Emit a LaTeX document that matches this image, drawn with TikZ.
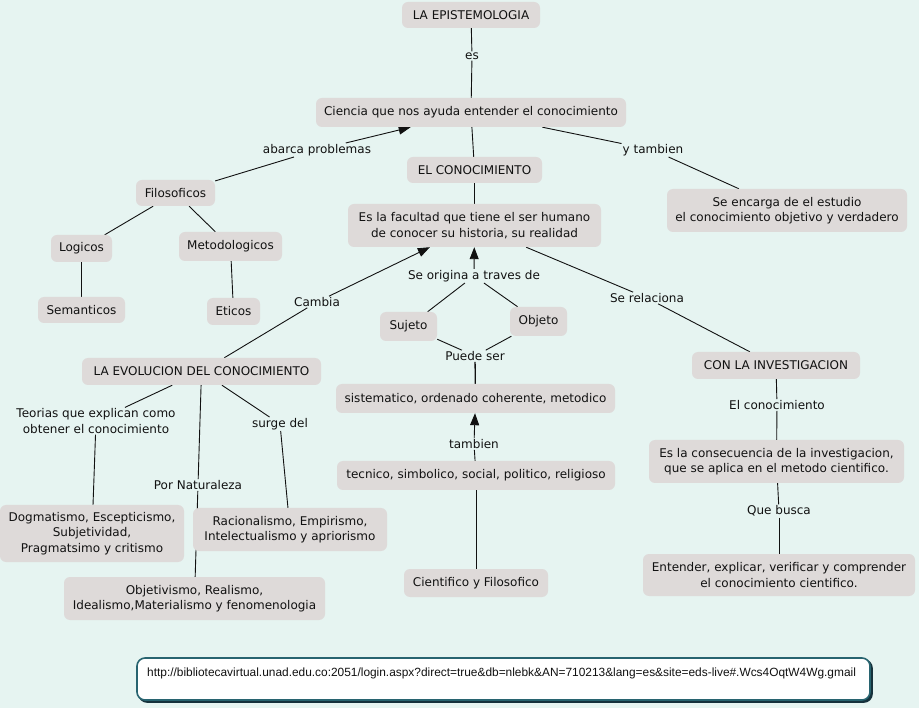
\documentclass[tikz,border=0pt]{standalone}
\usepackage{fontspec}
\setmainfont{DejaVu Sans}
\newfontfamily\urlfont{Liberation Sans}
\usetikzlibrary{arrows.meta}
\definecolor{bgc}{RGB}{230,244,241}
\definecolor{boxc}{RGB}{222,218,217}
\definecolor{txt}{RGB}{17,17,17}
\definecolor{urlb}{RGB}{40,100,112}
\definecolor{urls}{RGB}{22,50,60}
\pgfdeclarelayer{bg}
\pgfdeclarelayer{edges}
\pgfsetlayers{bg,edges,main}
\begin{document}
\begin{tikzpicture}[x=1pt,y=-1pt,
  box/.style={rounded corners=6pt,fill=boxc,text=txt,align=center,inner sep=2pt,font=\fontsize{12}{15.5}\selectfont},
  wh/.style 2 args={minimum width=#1pt,minimum height=#2pt},
  lbl/.style={text=txt,align=center,inner sep=1pt,font=\fontsize{12}{15.5}\selectfont},
  conn/.style={draw=txt,line width=0.9pt},
  arr/.style={conn,-{Triangle[length=12pt,width=9pt]}}]
\useasboundingbox (0,0) rectangle (919,708);
\begin{pgfonlayer}{bg}
\fill[bgc] (0,0) rectangle (919,708);
\end{pgfonlayer}

% boxes
\node[box,wh={138}{26}] (ep) at (471,15) {LA EPISTEMOLOGIA};
\node[box,wh={310}{29}] (ci) at (471,112.5) {Ciencia que nos ayuda entender el conocimiento};
\node[box,wh={135}{26}] (ec) at (474.5,170) {EL CONOCIMIENTO};
\node[box,wh={79}{26}] (fi) at (175.5,193) {Filosoficos};
\node[box,wh={240}{43}] (se) at (787,210.5) {Se encarga de el estudio\\el conocimiento objetivo y verdadero};
\node[box,wh={253}{43}] (fa) at (474.5,225.5) {Es la facultad que tiene el ser humano\\de conocer su historia, su realidad};
\node[box,wh={61}{27}] (lo) at (81.5,248.5) {Logicos};
\node[box,wh={103}{29}] (me) at (230.5,246.5) {Metodologicos};
\node[box,wh={87}{26}] (sm) at (81.5,310) {Semanticos};
\node[box,wh={53}{27}] (et) at (233.5,311.5) {Eticos};
\node[box,wh={57}{29}] (su) at (408.5,326.5) {Sujeto};
\node[box,wh={57}{29}] (ob) at (538.5,321.5) {Objeto};
\node[box,wh={239}{27}] (ev) at (201.5,371.5) {LA EVOLUCION DEL CONOCIMIENTO};
\node[box,wh={168}{27}] (inv) at (776,365.5) {CON LA INVESTIGACION};
\node[box,wh={279}{29}] (si) at (475.5,398.5) {sistematico, ordenado coherente, metodico};
\node[box,wh={255}{43}] (cs) at (776.5,461.5) {Es la consecuencia de la investigacion,\\que se aplica en el metodo cientifico.};
\node[box,wh={278}{29}] (tc) at (476,475.5) {tecnico, simbolico, social, politico, religioso};
\node[box,wh={184}{57}] (dg) at (92,533.5) {Dogmatismo, Escepticismo,\\Subjetividad,\\Pragmatsimo y critismo};
\node[box,wh={194}{43}] (ra) at (290,529.5) {Racionalismo, Empirismo,\\Intelectualismo y apriorismo};
\node[box,wh={272}{42}] (en) at (779,575) {Entender, explicar, verificar y comprender\\el conocimiento cientifico.};
\node[box,wh={144}{28}] (cf) at (476,583) {Cientifico y Filosofico};
\node[box,wh={261}{43}] (oj) at (194.5,598.5) {Objetivismo, Realismo,\\Idealismo,Materialismo y fenomenologia};

% linking phrases
\node[lbl] (les) at (472,56) {es};
\node[lbl] (lab) at (317,150) {abarca problemas};
\node[lbl] (lyt) at (653,150) {y tambien};
\node[lbl] (lso) at (474,276) {Se origina a traves de};
\node[lbl] (lca) at (317,302) {Cambia};
\node[lbl] (lsr) at (647,298) {Se relaciona};
\node[lbl] (lps) at (475,356) {Puede ser};
\node[lbl] (lte) at (96,421) {Teorias que explican como\\obtener el conocimiento};
\node[lbl] (lsd) at (280,424) {surge del};
\node[lbl] (lec) at (777,405) {El conocimiento};
\node[lbl] (lta) at (474,444) {tambien};
\node[lbl] (lpn) at (198,485) {Por Naturaleza};
\node[lbl] (lqb) at (779,511) {Que busca};

% url box
\node[draw=urls,fill=urls,rounded corners=8pt,line width=1.6pt,minimum width=733pt,minimum height=42pt] (urlsh) at (505.5,681) {};
\node[draw=urlb,fill=white,rounded corners=8pt,line width=1.6pt,minimum width=733pt,minimum height=42pt] (url) at (503.5,679) {};
\node[anchor=west,inner sep=0pt,text=txt,font=\urlfont\fontsize{11.9}{14}\selectfont] (urlt) at (147,673) {http://bibliotecavirtual.unad.edu.co:2051/login.aspx?direct=true\&db=nlebk\&AN=710213\&lang=es\&site=eds-live\#.Wcs4OqtW4Wg.gmail};

% connectors
\begin{pgfonlayer}{edges}
\draw[conn] (ep) -- (les);
\draw[conn] (les) -- (ci);
\draw[conn] (ci) -- (ec);
\draw[conn] (fi) -- (lab);
\draw[arr] (lab) -- (ci);
\draw[conn] (ci) -- (lyt);
\draw[conn] (lyt) -- (se);
\draw[conn] (fi) -- (lo);
\draw[conn] (fi) -- (me);
\draw[conn] (lo) -- (sm);
\draw[conn] (me) -- (et);
\draw[conn] (ec) -- (fa);
\draw[conn] (ev) -- (lca);
\draw[arr] (lca) -- (fa);
\draw[arr] (lso) -- (fa);
\draw[conn] (su) -- (lso);
\draw[conn] (ob) -- (lso);
\draw[conn] (su) -- (lps);
\draw[conn] (ob) -- (lps);
\draw[conn,line width=1.3pt] (si) -- (lps);
\draw[arr] (lta) -- (si);
\draw[conn] (tc) -- (lta);
\draw[conn] (cf) -- (tc);
\draw[conn] (fa) -- (lsr);
\draw[conn] (lsr) -- (inv);
\draw[conn] (ev) -- (lte);
\draw[conn] (lte) -- (dg);
\draw[conn] (ev) -- (lpn);
\draw[conn] (lpn) -- (oj);
\draw[conn] (ev) -- (lsd);
\draw[conn] (lsd) -- (ra);
\draw[conn] (inv) -- (lec);
\draw[conn] (lec) -- (cs);
\draw[conn] (cs) -- (lqb);
\draw[conn] (lqb) -- (en);
\end{pgfonlayer}
\end{tikzpicture}
\end{document}
